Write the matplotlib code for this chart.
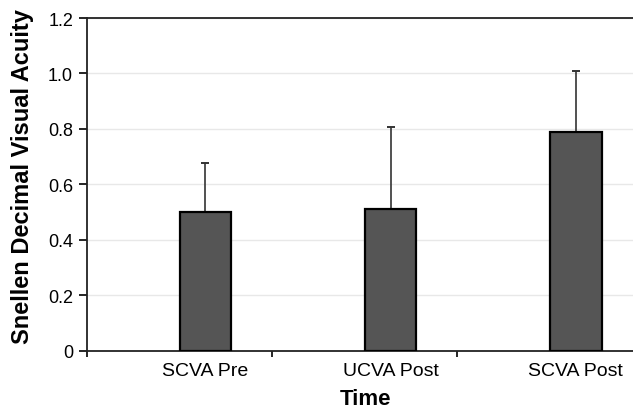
import matplotlib
matplotlib.use("Agg")
import matplotlib.pyplot as plt
import numpy as np

plt.rcParams['font.family'] = ['Liberation Sans', 'DejaVu Sans']

# data
categories = ["SCVA Pre", "UCVA Post", "SCVA Post"]
means = [0.50, 0.51, 0.79]
sd_upper = [0.177, 0.298, 0.22]

fig = plt.figure(figsize=(6.33, 4.14), dpi=100)
ax = fig.add_axes([0.1374, 0.1498, 0.8626, 0.8043])

x = np.arange(len(categories))
bar_w = 0.28
ax.bar(x, means, width=bar_w, align='edge', color='#555555',
       edgecolor='black', linewidth=1.6, zorder=3)
ax.errorbar(x + bar_w / 2, means, yerr=[np.zeros(len(means)), sd_upper],
            fmt='none', ecolor='#333333', elinewidth=1.2, capsize=3,
            capthick=1.4, zorder=2)

ax.set_ylim(0, 1.2)
ax.set_xlim(-0.5, 2.45)
ax.set_yticks([0, 0.2, 0.4, 0.6, 0.8, 1.0, 1.2])
ax.set_yticklabels(["0", "0.2", "0.4", "0.6", "0.8", "1.0", "1.2"], fontsize=13)
ax.yaxis.grid(True, color='#e8e8e8', linewidth=1, zorder=0)
ax.set_axisbelow(True)

# category boundary ticks, labels under the bars
ax.set_xticks([-0.5, 0.5, 1.5])
ax.set_xticklabels([])
ax.set_xticks(x + bar_w / 2, minor=True)
ax.set_xticklabels(categories, minor=True, fontsize=14)
ax.tick_params(axis='x', which='minor', length=0, pad=8)
ax.tick_params(axis='x', which='major', length=4, width=1.2)
ax.tick_params(axis='y', length=6, width=1.2, pad=4)

for s in ['left', 'bottom', 'top']:
    ax.spines[s].set_linewidth(1.3)
    ax.spines[s].set_color('#222222')
ax.spines['right'].set_visible(False)

ax.set_ylabel("Snellen Decimal Visual Acuity", fontsize=17, fontweight='bold')
ax.yaxis.set_label_coords(-0.097, 0.528)
ax.set_xlabel("Time", fontsize=16, fontweight='bold')
ax.xaxis.set_label_coords(0.511, -0.111)

fig.savefig("out.png", dpi=100)
